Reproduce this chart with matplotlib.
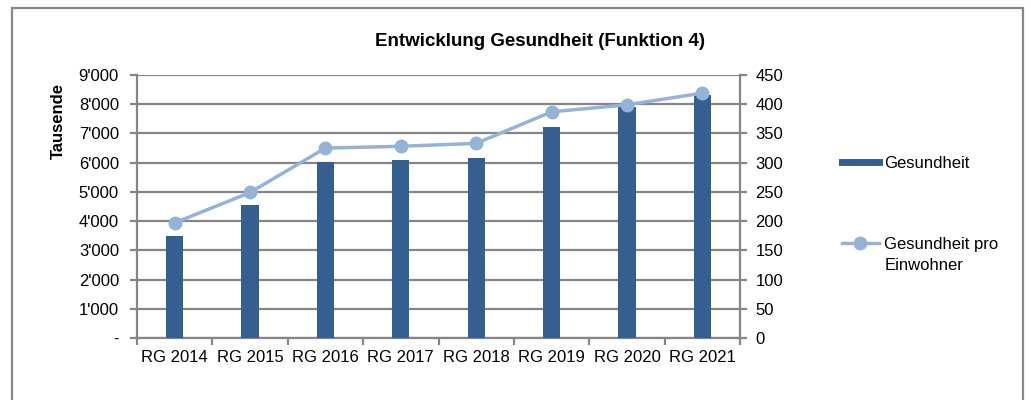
import matplotlib.pyplot as plt
import matplotlib.ticker as mticker
from matplotlib.patches import Rectangle
from matplotlib.lines import Line2D
import numpy as np

plt.rcParams['font.family'] = ['Liberation Sans', 'DejaVu Sans']

# Daten
jahre = ['RG 2014', 'RG 2015', 'RG 2016', 'RG 2017', 'RG 2018', 'RG 2019', 'RG 2020', 'RG 2021']
gesundheit = [3500, 4540, 6020, 6100, 6170, 7220, 7920, 8330]          # Tausende
pro_einwohner = [197, 249, 325, 328, 333, 387, 399, 419]

bar_farbe = '#355E91'
linie_farbe = '#95B3D7'
grid_farbe = '#868686'

fig = plt.figure(figsize=(10.31, 4.0), dpi=100)

# Rahmen um das ganze Diagramm
fig.patches.append(Rectangle((12 / 1031, -0.05), 1011 / 1031, 1 - 8 / 400 + 0.05,
                             transform=fig.transFigure, fill=False,
                             edgecolor='#888888', linewidth=1.6))

ax = fig.add_axes([137 / 1031, 1 - 338 / 400, 603 / 1031, 263 / 400])
x = np.arange(len(jahre))
ax.bar(x, gesundheit, width=0.23, color=bar_farbe, zorder=3)

ax.set_xlim(-0.5, len(jahre) - 0.5)
ax.set_ylim(0, 9000)
ax.yaxis.set_major_locator(mticker.MultipleLocator(1000))
ax.yaxis.set_major_formatter(mticker.FuncFormatter(
    lambda v, p: '-' if v == 0 else f"{int(v):,}".replace(',', "'")))
ax.grid(axis='y', color=grid_farbe, linewidth=1.6, zorder=0)
ax.set_xticks(x)
ax.set_xticklabels(jahre)
ax.set_xticks(np.arange(-0.5, len(jahre)), minor=True)
ax.tick_params(axis='x', which='major', length=0, pad=9, labelsize=12)
ax.tick_params(axis='x', which='minor', length=5, color=grid_farbe, width=1.6)
ax.tick_params(axis='y', length=5, color=grid_farbe, width=1.6, labelsize=12, pad=8)
for s in ['top', 'right']:
    ax.spines[s].set_visible(False)
for s in ['left', 'bottom']:
    ax.spines[s].set_color(grid_farbe)
    ax.spines[s].set_linewidth(1.6)

ax2 = ax.twinx()
ax2.plot(x, pro_einwohner, color=linie_farbe, linewidth=2.5, marker='o',
         markersize=9, zorder=4)
ax2.set_ylim(0, 450)
ax2.yaxis.set_major_locator(mticker.MultipleLocator(50))
ax2.tick_params(axis='y', length=5, color=grid_farbe, width=1.6, labelsize=12, pad=6)
for s in ['top', 'left', 'bottom']:
    ax2.spines[s].set_visible(False)
ax2.spines['right'].set_color(grid_farbe)
ax2.spines['right'].set_linewidth(1.6)

fig.text(540 / 1031, 1 - 42 / 400, 'Entwicklung Gesundheit (Funktion 4)',
         ha='center', va='center', fontsize=13.5, fontweight='bold')
fig.text(58 / 1031, 1 - 121 / 400, 'Tausende', rotation=90,
         ha='center', va='center', fontsize=12, fontweight='bold')

# Legende
leg1 = [Line2D([0], [0], color=bar_farbe, linewidth=5)]
leg2 = [Line2D([0], [0], color=linie_farbe, linewidth=2.5, marker='o', markersize=9)]
fig.legend(leg1, ['Gesundheit'], loc='center left',
           bbox_to_anchor=(827 / 1031, 1 - 163 / 400), frameon=False,
           fontsize=12, handlelength=2.2, handletextpad=0.3)
fig.legend(leg2, ['Gesundheit pro'], loc='center left',
           bbox_to_anchor=(827 / 1031, 1 - 244 / 400), frameon=False,
           fontsize=12, handlelength=2.2, handletextpad=0.3)
fig.text(885 / 1031, 1 - 265 / 400, 'Einwohner', ha='left', va='center', fontsize=12)

fig.savefig('out.png', dpi=100)
